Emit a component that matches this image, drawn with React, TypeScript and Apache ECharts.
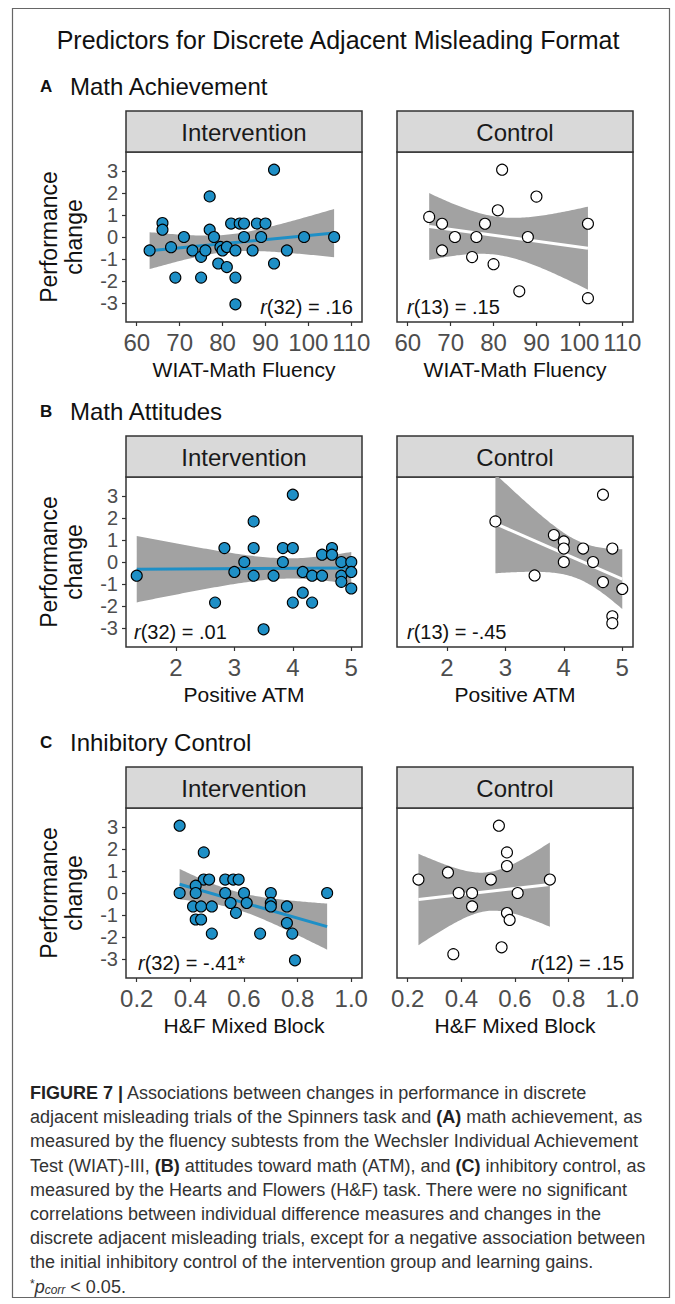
import React, { useEffect, useRef } from "react";
import * as echarts from "echarts";

// ---------------- data ----------------
// A: Math achievement (WIAT-Math Fluency)
const aIntX = [63, 66, 66, 68, 69, 71, 73, 75, 75, 76, 77, 77, 78, 79, 79.5, 80, 81, 81, 82, 83, 83, 83, 84, 85, 85, 87, 88, 89, 90, 92, 92, 95, 99, 106];
const aIntY = [-0.61, 0.63, 0.33, -0.46, -1.84, 0, -0.61, -0.9, -1.84, -0.61, 1.84, 0.33, 0, -1.2, -0.45, -0.61, -0.45, -1.36, 0.61, -0.61, -1.84, -3.05, 0.61, 0.61, 0, -0.61, 0.61, 0, 0.61, 3.05, -1.2, -0.61, 0, 0];
const aCtlX = [82, 90, 81, 65, 68, 78, 102, 71, 76, 88, 68, 75, 80, 86, 102];
const aCtlY = [3.05, 1.83, 1.21, 0.91, 0.6, 0.6, 0.6, 0, 0, 0, -0.61, -0.91, -1.23, -2.46, -2.77];
// B: Math attitudes (Positive ATM)
const bIntX = [1.33, 2.67, 2.83, 3.0, 3.17, 3.33, 3.33, 3.33, 3.5, 3.67, 3.83, 3.83, 4.0, 4.0, 4.0, 4.17, 4.17, 4.33, 4.33, 4.5, 4.5, 4.67, 4.67, 4.83, 4.83, 4.83, 5.0, 5.0, 5.0];
const bIntY = [-0.62, -1.84, 0.63, -0.45, 0, 1.84, 0.63, -0.62, -3.05, -0.62, 0.63, 0, 3.05, 0.63, -1.84, -0.45, -1.39, -0.62, -1.84, -0.62, 0.33, 0.63, 0.33, 0, -0.62, -0.9, 0, -0.45, -1.2];
const bCtlX = [4.67, 2.83, 3.83, 4.0, 4.0, 4.33, 4.83, 4.0, 4.5, 3.5, 4.67, 5.0, 4.83, 4.83];
const bCtlY = [3.05, 1.84, 1.22, 0.93, 0.61, 0.61, 0.61, 0, 0, -0.61, -0.91, -1.22, -2.46, -2.77];
// C: Inhibitory control (H&F Mixed Block)
const cIntX = [0.36, 0.45, 0.45, 0.47, 0.53, 0.56, 0.58, 0.42, 0.36, 0.42, 0.53, 0.6, 0.7, 0.91, 0.41, 0.44, 0.48, 0.55, 0.61, 0.7, 0.7, 0.76, 0.57, 0.42, 0.44, 0.76, 0.48, 0.66, 0.78, 0.79];
const cIntY = [3.05, 1.84, 0.61, 0.61, 0.61, 0.61, 0.61, 0.33, 0, 0, 0, 0, 0, 0, -0.61, -0.61, -0.61, -0.45, -0.45, -0.45, -0.61, -0.61, -0.9, -1.2, -1.2, -1.36, -1.84, -1.84, -1.84, -3.05];
const cCtlX = [0.54, 0.57, 0.57, 0.35, 0.24, 0.51, 0.73, 0.39, 0.44, 0.61, 0.44, 0.57, 0.58, 0.55, 0.37];
const cCtlY = [3.05, 1.84, 1.22, 0.93, 0.61, 0.61, 0.61, 0, 0, 0, -0.61, -0.91, -1.22, -2.46, -2.77];

// tick labels
const xTicksA = [60, 70, 80, 90, 100, 110];
const xTicksB = [2, 3, 4, 5];
const xTicksC = [0.2, 0.4, 0.6, 0.8, 1.0];
const yTicks = [-3, -2, -1, 0, 1, 2, 3];

// texts
const rowTitles = ["Math Achievement", "Math Attitudes", "Inhibitory Control"];
const rowLetters = ["A", "B", "C"];
const xTitles = ["WIAT-Math Fluency", "Positive ATM", "H&F Mixed Block"];
const facetNames = ["Intervention", "Control"];
const rLabels = [
  "{i|r}(32) = .16",
  "{i|r}(13) = .15",
  "{i|r}(32) = .01",
  "{i|r}(13) = -.45",
  "{i|r}(32) = -.41*",
  "{i|r}(12) = .15",
];
const captionLines = [
  "{b|FIGURE 7 |} Associations between changes in performance in discrete",
  "adjacent misleading trials of the Spinners task and {b|(A)} math achievement, as",
  "measured by the fluency subtests from the Wechsler Individual Achievement",
  "Test (WIAT)-III, {b|(B)} attitudes toward math (ATM), and {b|(C)} inhibitory control, as",
  "measured by the Hearts and Flowers (H&F) task. There were no significant",
  "correlations between individual difference measures and changes in the",
  "discrete adjacent misleading trials, except for a negative association between",
  "the initial inhibitory control of the intervention group and learning gains.",
  "{sup|*}{i|p}{sub|corr} < 0.05.",
];

// ---------------- layout ----------------
const FONT = '"Liberation Sans", Arial, Helvetica, sans-serif';
const rowTops = [152, 477, 808];
const colLefts = [126, 397];
const PW = 236;
const PH = 170;
const STRIP_H = 41;
const xRanges = [
  [57.5, 112.5],
  [1.1465, 5.1835],
  [0.16, 1.04],
];
const yRange = [-3.85, 3.85];
const BLUE = "#1e8fc6";
const BAND = "#a2a2a2";
const CAP_FS = 18;

function tQuant(df: number) {
  const z = 1.959964;
  const g1 = (z ** 3 + z) / 4;
  const g2 = (5 * z ** 5 + 16 * z ** 3 + 3 * z) / 96;
  const g3 = (3 * z ** 7 + 19 * z ** 5 + 17 * z ** 3 - 15 * z) / 384;
  return z + g1 / df + g2 / df ** 2 + g3 / df ** 3;
}

function lmFit(xs: number[], ys: number[]) {
  const n = xs.length;
  const mx = xs.reduce((a, b) => a + b, 0) / n;
  const my = ys.reduce((a, b) => a + b, 0) / n;
  let sxx = 0, sxy = 0;
  for (let i = 0; i < n; i++) {
    sxx += (xs[i] - mx) ** 2;
    sxy += (xs[i] - mx) * (ys[i] - my);
  }
  const b = sxy / sxx;
  const a = my - b * mx;
  let sse = 0;
  for (let i = 0; i < n; i++) sse += (ys[i] - a - b * xs[i]) ** 2;
  const s = Math.sqrt(sse / (n - 2));
  const t = tQuant(n - 2);
  const x0 = Math.min(...xs);
  const x1 = Math.max(...xs);
  const band: number[][] = [];
  const steps = 80;
  for (let i = 0; i <= steps; i++) {
    const x = x0 + ((x1 - x0) * i) / steps;
    const yh = a + b * x;
    const se = s * Math.sqrt(1 / n + (x - mx) ** 2 / sxx);
    band.push([x, yh - t * se, yh + t * se]);
  }
  return { line: [[x0, a + b * x0], [x1, a + b * x1]], band };
}

function buildOption() {
  const sets = [
    [aIntX, aIntY], [aCtlX, aCtlY],
    [bIntX, bIntY], [bCtlX, bCtlY],
    [cIntX, cIntY], [cCtlX, cCtlY],
  ];
  const xTickSets = [xTicksA, xTicksB, xTicksC];
  const grid: any[] = [];
  const xAxis: any[] = [];
  const yAxis: any[] = [];
  const series: any[] = [];
  const graphic: any[] = [];

  // outer frame
  graphic.push({
    type: "rect",
    shape: { x: 12.5, y: 8.5, width: 657, height: 1289 },
    style: { fill: "none", stroke: "#666", lineWidth: 1.2 },
    z: 0,
  });
  graphic.push({
    type: "text",
    x: 338,
    y: 40,
    style: {
      text: "Predictors for Discrete Adjacent Misleading Format",
      font: `25px ${FONT}`,
      fill: "#111",
      align: "center",
      verticalAlign: "middle",
    },
  });

  for (let r = 0; r < 3; r++) {
    const stripTop = rowTops[r] - STRIP_H;
    const headY = stripTop - 25;
    graphic.push({
      type: "text", x: 40, y: headY,
      style: { text: rowLetters[r], font: `bold 17px ${FONT}`, fill: "#111", verticalAlign: "middle" },
    });
    graphic.push({
      type: "text", x: 70, y: headY,
      style: { text: rowTitles[r], font: `24px ${FONT}`, fill: "#111", verticalAlign: "middle" },
    });
    for (let c = 0; c < 2; c++) {
      const idx = r * 2 + c;
      const left = colLefts[c];
      const top = rowTops[r];
      // strip
      graphic.push({
        type: "rect",
        shape: { x: left, y: stripTop, width: PW, height: STRIP_H },
        style: { fill: "#d9d9d9", stroke: "#333", lineWidth: 1.5 },
      });
      graphic.push({
        type: "text", x: left + PW / 2, y: stripTop + STRIP_H / 2 + 1,
        style: { text: facetNames[c], font: `24px ${FONT}`, fill: "#1a1a1a", align: "center", verticalAlign: "middle" },
      });
      grid.push({
        left, top, width: PW, height: PH,
        show: true, borderColor: "#333", borderWidth: 1.5, backgroundColor: "#fff",
      });
      const ticks = xTickSets[r];
      xAxis.push({
        type: "value", gridIndex: idx, position: "bottom",
        min: xRanges[r][0], max: xRanges[r][1],
        axisLine: { show: false, onZero: false },
        splitLine: { show: false },
        axisTick: { show: true, length: 4, customValues: ticks, lineStyle: { color: "#333", width: 1.2 } },
        axisLabel: {
          customValues: ticks, margin: 8, fontSize: 24, color: "#4d4d4d", fontFamily: FONT,
          formatter: (v: number) => (r === 2 ? v.toFixed(1) : String(v)),
        },
        name: xTitles[r], nameLocation: "middle", nameGap: 37,
        nameTextStyle: { fontSize: 21, color: "#111", fontFamily: FONT },
      });
      yAxis.push({
        type: "value", gridIndex: idx, position: "left",
        min: yRange[0], max: yRange[1],
        axisLine: { show: false, onZero: false },
        splitLine: { show: false },
        axisTick: { show: c === 0, length: 4, customValues: yTicks, lineStyle: { color: "#333", width: 1.2 } },
        axisLabel: { show: c === 0, customValues: yTicks, margin: 8, fontSize: 20, color: "#4d4d4d", fontFamily: FONT },
        name: c === 0 ? "Performance\nchange" : "",
        nameLocation: "middle", nameRotate: 90, nameGap: 40,
        nameTextStyle: { fontSize: 23, lineHeight: 25, color: "#111", fontFamily: FONT },
      });

      const [xs, ys] = sets[idx];
      const fit = lmFit(xs, ys);
      const isCtl = c === 1;
      series.push({
        type: "custom", xAxisIndex: idx, yAxisIndex: idx, clip: true, z: 1,
        data: fit.band, encode: { x: 0, y: [1, 2] }, silent: true,
        renderItem: (params: any, api: any) => {
          if (params.dataIndex !== 0) return null;
          const pts: number[][] = [];
          fit.band.forEach((b) => pts.push(api.coord([b[0], b[2]])));
          for (let i = fit.band.length - 1; i >= 0; i--) pts.push(api.coord([fit.band[i][0], fit.band[i][1]]));
          return { type: "polygon", shape: { points: pts }, style: { fill: BAND } };
        },
      });
      series.push({
        type: "line", xAxisIndex: idx, yAxisIndex: idx, z: 2,
        data: fit.line, symbol: "none",
        lineStyle: { color: isCtl ? "#ffffff" : BLUE, width: 3 },
      });
      series.push({
        type: "scatter", xAxisIndex: idx, yAxisIndex: idx, z: 3,
        data: xs.map((x, i) => [x, ys[i]]),
        symbol: "circle", symbolSize: 11,
        itemStyle: { color: isCtl ? "#ffffff" : BLUE, borderColor: "#000", borderWidth: 1.1, opacity: 1 },
      });

      // correlation label
      const rightAligned = idx === 0 || idx === 5;
      graphic.push({
        type: "text",
        x: rightAligned ? left + PW - 9 : left + (idx === 2 ? 8 : idx === 4 ? 12 : 10),
        y: top + PH - 15,
        z: 10,
        style: {
          text: rLabels[idx],
          font: `20px ${FONT}`,
          fill: "#111",
          align: rightAligned ? "right" : "left",
          verticalAlign: "middle",
          rich: { i: { fontStyle: "italic", fontSize: 20, fontFamily: FONT, fill: "#111" } },
        },
      });
    }
  }

  // caption
  const capY0 = 1093;
  const capStep = 24.2;
  captionLines.forEach((t, i) => {
    graphic.push({
      type: "text", x: 30, y: capY0 + i * capStep,
      style: {
        text: t,
        font: `${CAP_FS}px ${FONT}`,
        fill: "#333",
        verticalAlign: "middle",
        rich: {
          b: { fontWeight: "bold", fontSize: CAP_FS, fontFamily: FONT, fill: "#222" },
          i: { fontStyle: "italic", fontSize: CAP_FS, fontFamily: FONT, fill: "#333" },
          sub: { fontStyle: "italic", fontSize: 12, fontFamily: FONT, fill: "#333", verticalAlign: "bottom" },
          sup: { fontSize: 12, fontFamily: FONT, fill: "#333", verticalAlign: "top" },
        },
      },
    });
  });

  return {
    animation: false,
    backgroundColor: "#fff",
    grid, xAxis, yAxis, series, graphic,
  };
}

export default function App() {
  const ref = useRef<HTMLDivElement>(null);
  useEffect(() => {
    document.body.style.margin = "0";
    const chart = echarts.init(ref.current as HTMLDivElement, null, { renderer: "svg" });
    chart.setOption(buildOption() as any);
    return () => chart.dispose();
  }, []);
  return <div ref={ref} style={{ width: 675, height: 1304 }} />;
}
